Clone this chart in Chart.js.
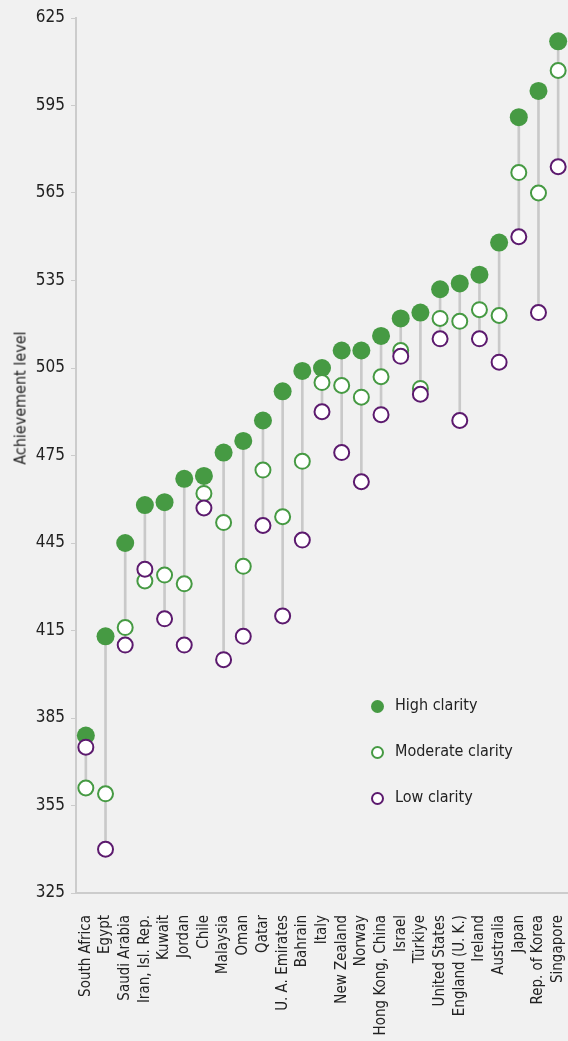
<!DOCTYPE html>
<html>
<head>
<meta charset="utf-8">
<script src="https://cdn.jsdelivr.net/npm/chart.js@4"></script>
<style>
  html, body { margin: 0; padding: 0; background: #f1f1f1; }
  #wrap { position: relative; width: 568px; height: 1041px; }
  #ytitle {
    position: absolute; left: 20px; top: 398px;
    transform: translate(-50%, -50%) rotate(-90deg);
    font: 16px "Liberation Sans Narrow", "DejaVu Sans Condensed", sans-serif;
    color: #222; white-space: nowrap;
  }
  #legend { position: absolute; left: 371px; top: 695px;
    font: 16px "Liberation Sans Narrow", "DejaVu Sans Condensed", sans-serif; color: #222; }
  .row { height: 46px; display: flex; align-items: flex-start; }
  .mk { width: 13px; height: 13px; border-radius: 50%; box-sizing: border-box; margin-right: 11px; margin-top: 5px; }
</style>
</head>
<body>
<div id="wrap">
  <canvas id="myChart" width="568" height="1041"></canvas>
  <div id="ytitle">Achievement level</div>
  <div id="legend">
    <div class="row"><span class="mk" style="background:#469a43"></span>High clarity</div>
    <div class="row"><span class="mk" style="background:#fff;border:2px solid #469a43"></span>Moderate clarity</div>
    <div class="row"><span class="mk" style="background:#fff;border:2px solid #5c1a6e"></span>Low clarity</div>
  </div>
</div>
<script>
const countries = ['South Africa', 'Egypt', 'Saudi Arabia', 'Iran, Isl. Rep.', 'Kuwait', 'Jordan', 'Chile',
    'Malaysia', 'Oman', 'Qatar', 'U. A. Emirates', 'Bahrain', 'Italy', 'New Zealand', 'Norway',
    'Hong Kong, China', 'Israel', 'Türkiye', 'United States', 'England (U. K.)', 'Ireland', 'Australia',
    'Japan', 'Rep. of Korea', 'Singapore'];

const highClarity = [379, 413, 445, 458, 459, 467, 468, 476, 480, 487, 497, 504, 505, 511, 511, 516,
    522, 524, 532, 534, 537, 548, 591, 600, 617];
const moderateClarity = [361, 359, 416, 432, 434, 431, 462, 452, 437, 470, 454, 473, 500, 499, 495, 502,
    511, 498, 522, 521, 525, 523, 572, 565, 607];
const lowClarity = [375, 340, 410, 436, 419, 410, 457, 405, 413, 451, 420, 446, 490, 476, 466, 489,
    509, 496, 515, 487, 515, 507, 550, 524, 574];

const yTicks = [325, 355, 385, 415, 445, 475, 505, 535, 565, 595, 625];

const green = '#469a43';
const purple = '#5c1a6e';
const grey = '#c9c9c9';
const font = '"Liberation Sans Narrow", "DejaVu Sans Condensed", sans-serif';

const ranges = countries.map((c, i) => {
    let v = [highClarity[i], moderateClarity[i], lowClarity[i]];
    return [Math.min(...v), Math.max(...v)];
});

function dots(label, data, color, filled, order) {
    return {
        type: 'line',
        label: label,
        data: data,
        showLine: false,
        order: order,
        pointRadius: filled ? 9 : 7.5,
        pointHoverRadius: filled ? 9 : 7.5,
        pointBackgroundColor: filled ? color : '#fff',
        pointBorderColor: color,
        pointBorderWidth: filled ? 0 : 2,
        borderColor: color,
        backgroundColor: color
    };
}

let ctx = document.getElementById('myChart');
let myChart = new Chart(ctx, {
    data: {
        labels: countries,
        datasets: [
            dots('Low clarity', lowClarity, purple, false, 0),
            dots('Moderate clarity', moderateClarity, green, false, 1),
            dots('High clarity', highClarity, green, true, 2),
            {
                type: 'bar',
                label: 'range',
                data: ranges,
                order: 3,
                backgroundColor: grey,
                barThickness: 2,
                borderSkipped: false
            }
        ]
    },
    options: {
        responsive: false,
        animation: false,
        layout: { autoPadding: false, padding: { top: 18, right: -2, left: 0, bottom: 0 } },
        plugins: { legend: { display: false }, tooltip: { enabled: false } },
        scales: {
            x: {
                offset: true,
                grid: { display: false, drawTicks: false },
                border: { color: '#cccccc', width: 2 },
                ticks: {
                    autoSkip: false, minRotation: 90, maxRotation: 90, padding: 22,
                    color: '#222', font: { family: font, size: 15 }
                },
                afterFit: s => { s.height = 148; s.paddingRight = 0; s.paddingLeft = 0; }
            },
            y: {
                min: 325, max: 625,
                afterBuildTicks: s => { s.ticks = yTicks.map(v => ({ value: v })); },
                grid: { drawOnChartArea: false, tickLength: 5, color: '#cccccc' },
                border: { color: '#cccccc', width: 2 },
                ticks: { padding: 6, color: '#222', font: { family: font, size: 17 } },
                afterFit: s => { s.width = 76; }
            }
        }
    }
});
</script>
</body>
</html>
